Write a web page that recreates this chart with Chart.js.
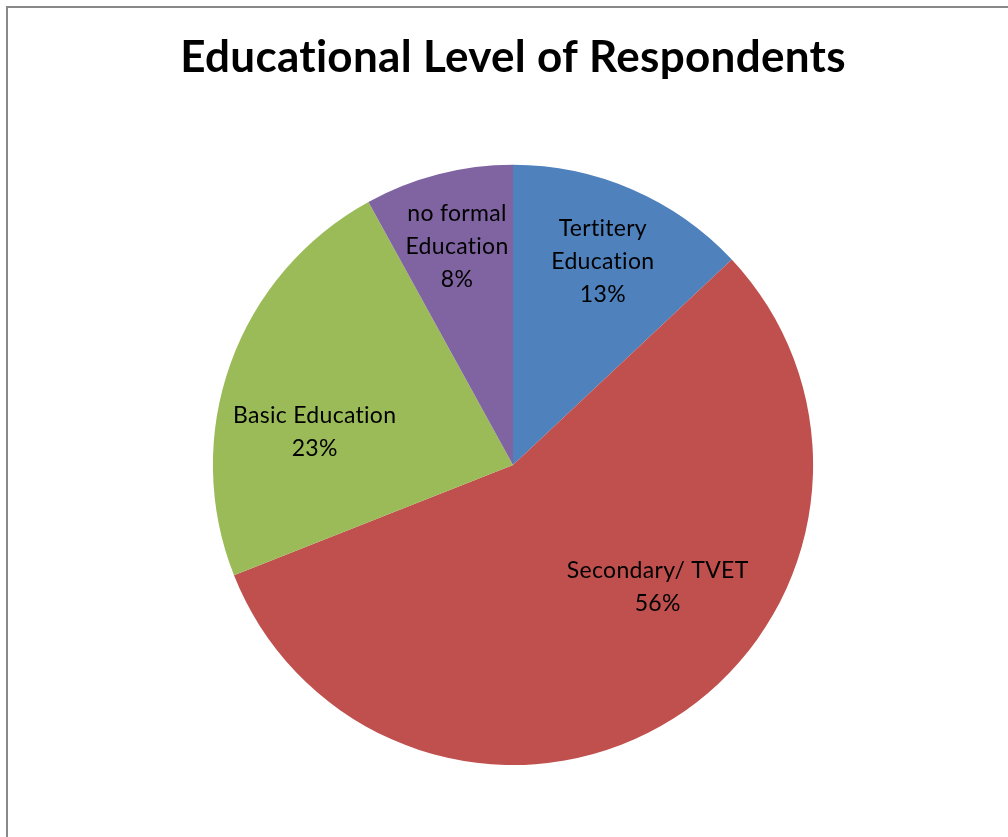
<!DOCTYPE html>
<html>
<head>
<meta charset="utf-8">
<script src="https://cdn.jsdelivr.net/npm/chart.js@4"></script>
<style>
    body { margin: 0; background: #fff; overflow: hidden; }
    #wrap { position: relative; width: 1008px; height: 837px; }
    #frame { position: absolute; left: 6px; top: 6px; width: 1100px; height: 1000px; border: 2px solid #898989; }
    canvas { position: absolute; left: 0; top: 0; }
</style>
</head>
<body>
<div id="wrap">
    <div id="frame"></div>
    <canvas id="pieChart" width="1008" height="837"></canvas>
</div>
<script>
// --- Data ---
const categories = [['Tertitery', 'Education'], ['Secondary/ TVET'], ['Basic Education'], ['no formal', 'Education']];
const shares = [13, 56, 23, 8];
const sliceColors = ['#4F81BD', '#C0504D', '#9BBB59', '#8064A2'];

// label placement inside each slice: t = fraction along the arc, r = fraction of radius
const labelPlacement = [
    { t: 0.51, r: 0.74 },
    { t: 0.413, r: 0.63 },
    { t: 0.375, r: 0.67 },
    { t: 0.5, r: 0.75 }
];

// small letter spacing keeps the font from joining "ti" into a ligature
const spacing = {
    id: 'spacing',
    beforeDraw(chart) {
        chart.ctx.letterSpacing = '0.3px';
    }
};

const sliceLabels = {
    id: 'sliceLabels',
    afterDatasetsDraw(chart) {
        const ctx = chart.ctx;
        const meta = chart.getDatasetMeta(0);
        ctx.save();
        ctx.letterSpacing = '0.3px';
        ctx.font = '23px Lato';
        ctx.fillStyle = '#000';
        ctx.textAlign = 'center';
        ctx.textBaseline = 'middle';
        meta.data.forEach((arc, i) => {
            const p = labelPlacement[i];
            const a = arc.startAngle + (arc.endAngle - arc.startAngle) * p.t;
            const cx = arc.x + Math.cos(a) * arc.outerRadius * p.r;
            const cy = arc.y + Math.sin(a) * arc.outerRadius * p.r;
            const lines = categories[i].concat([shares[i] + '%']);
            const lh = 33;
            lines.forEach((line, j) => {
                ctx.fillText(line, cx, cy + (j - (lines.length - 1) / 2) * lh);
            });
        });
        ctx.restore();
    }
};

const ctx = document.getElementById('pieChart').getContext('2d');
new Chart(ctx, {
    type: 'pie',
    data: {
        labels: categories.map(c => c.join(' ')),
        datasets: [{
            data: shares,
            backgroundColor: sliceColors,
            borderWidth: 0
        }]
    },
    options: {
        responsive: false,
        animation: false,
        layout: {
            padding: { left: 18, right: 0, top: 0, bottom: 72 }
        },
        plugins: {
            legend: { display: false },
            tooltip: { enabled: false },
            title: {
                display: true,
                text: 'Educational Level of Respondents',
                color: '#000',
                font: { family: 'Lato', size: 44, weight: 'bold', lineHeight: 1.2 },
                padding: { top: 31, bottom: 81 }
            }
        }
    },
    plugins: [spacing, sliceLabels]
});
</script>
</body>
</html>
